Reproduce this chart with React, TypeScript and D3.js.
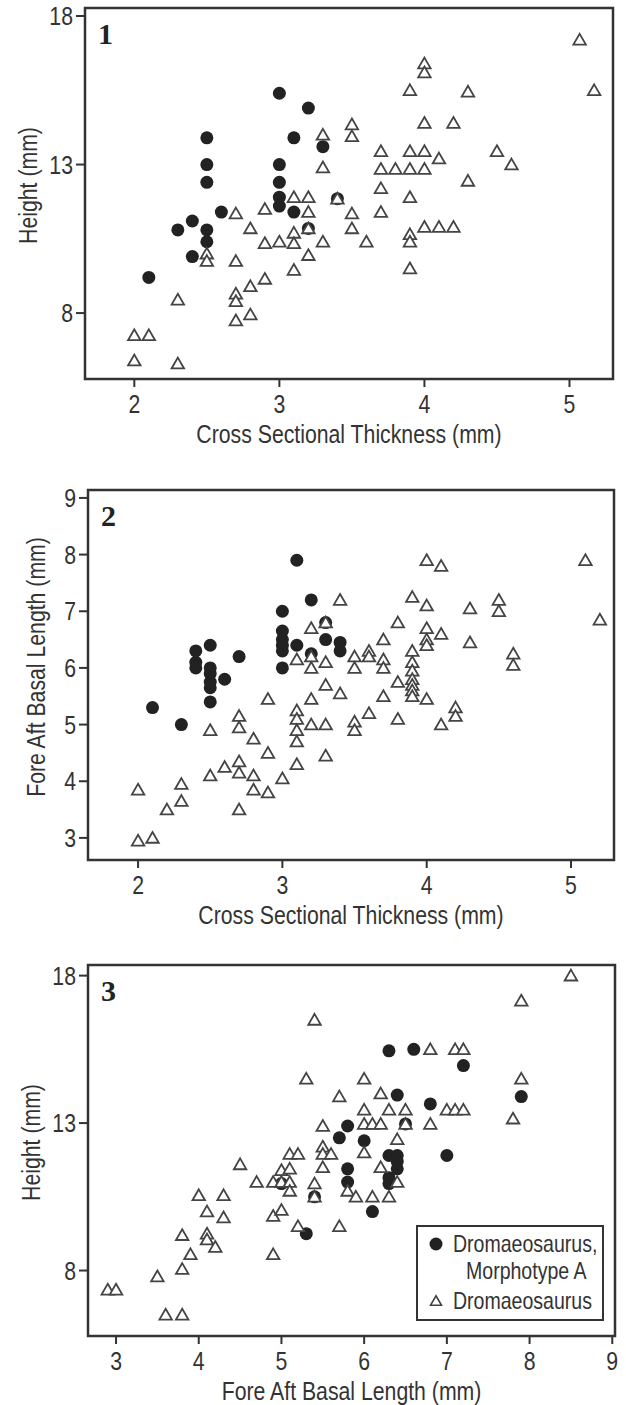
import React from "react";
import * as d3 from "d3";

// ---------- DATA ----------
const seriesNames = ["Dromaeosaurus,", "Morphotype A", "Dromaeosaurus"];

// Panel 1: Cross sectional thickness (x) vs Height (y)
const p1Circles: [number, number][] = [
  [3.0, 15.4], [3.2, 14.9], [2.5, 13.9], [3.1, 13.9], [3.3, 13.6], [2.5, 13.0], [3.0, 13.0],
  [2.5, 12.4], [3.0, 12.4], [3.0, 11.9], [3.0, 11.6], [2.6, 11.4], [3.1, 11.4], [2.4, 11.1],
  [2.3, 10.8], [2.5, 10.8], [2.5, 10.4], [2.4, 9.9], [2.1, 9.2], [3.2, 10.85], [3.4, 11.85],
];
const p1Triangles: [number, number][] = [
  [3.3, 14.0], [3.3, 12.9], [3.1, 11.9], [3.2, 11.9], [3.2, 11.4], [2.9, 11.5], [2.7, 11.35],
  [2.8, 10.85], [3.2, 10.85], [3.1, 10.7], [2.9, 10.35], [3.0, 10.4], [3.1, 10.35], [3.3, 10.4],
  [2.5, 10.0], [2.5, 9.75], [2.7, 9.75], [3.2, 9.95], [2.9, 9.15], [3.1, 9.45], [2.8, 8.9],
  [2.7, 8.65], [2.7, 8.4], [2.8, 7.95], [2.7, 7.75], [2.3, 8.45], [2.0, 7.25], [2.1, 7.25],
  [2.0, 6.4], [2.3, 6.3], [3.4, 11.85],
  [5.07, 17.2], [5.17, 15.5], [4.0, 16.4], [4.0, 16.1], [3.9, 15.5], [4.3, 15.45], [3.5, 14.35],
  [3.5, 13.95], [4.0, 14.4], [4.2, 14.4], [3.7, 13.45], [3.9, 13.45], [4.0, 13.45], [4.1, 13.2],
  [4.5, 13.45], [4.6, 13.0], [3.7, 12.85], [3.8, 12.85], [3.9, 12.85], [4.0, 12.85], [4.3, 12.45],
  [3.7, 12.2], [3.9, 11.9], [3.5, 11.35], [3.5, 10.85], [3.7, 11.4], [3.6, 10.4], [3.9, 10.65],
  [3.9, 10.4], [4.0, 10.9], [4.1, 10.9], [4.2, 10.9], [3.9, 9.5],
];

// Panel 2: Cross sectional thickness (x) vs Fore aft basal length (y)
const p2Circles: [number, number][] = [
  [3.1, 7.9], [3.2, 7.2], [3.0, 7.0], [3.0, 6.65], [3.0, 6.5], [3.0, 6.4], [3.0, 6.3],
  [3.1, 6.4], [3.2, 6.25], [3.3, 6.5], [3.3, 6.8], [3.4, 6.45], [3.4, 6.3], [3.0, 6.0],
  [2.4, 6.3], [2.4, 6.1], [2.4, 6.0], [2.5, 6.4], [2.5, 6.0], [2.5, 5.9], [2.5, 5.75],
  [2.5, 5.65], [2.5, 5.4], [2.6, 5.8], [2.7, 6.2], [2.1, 5.3], [2.3, 5.0],
];
const p2Triangles: [number, number][] = [
  [3.4, 7.2], [3.2, 6.7], [3.3, 6.8], [3.1, 6.15], [3.2, 6.2], [3.2, 6.0], [3.3, 6.1],
  [3.3, 5.7], [3.4, 5.55], [3.2, 5.45], [2.9, 5.45], [3.1, 5.25], [3.1, 5.1], [3.1, 4.9],
  [3.1, 4.7], [3.2, 5.0], [3.3, 5.0], [3.1, 4.3], [3.3, 4.45], [2.7, 5.15], [2.7, 4.95],
  [2.5, 4.9], [2.8, 4.75], [2.9, 4.5], [2.6, 4.25], [2.7, 4.35], [2.7, 4.15], [2.8, 4.1],
  [2.5, 4.1], [3.0, 4.05], [2.8, 3.85], [2.9, 3.8], [2.7, 3.5], [2.3, 3.95], [2.3, 3.65],
  [2.2, 3.5], [2.0, 3.85], [2.0, 2.95], [2.1, 3.0],
  [5.1, 7.9], [5.2, 6.85], [4.0, 7.9], [4.1, 7.8], [3.9, 7.25], [4.0, 7.1], [4.3, 7.05],
  [4.5, 7.2], [4.5, 7.0], [3.8, 6.8], [3.7, 6.5], [4.0, 6.7], [4.0, 6.5], [4.0, 6.4],
  [4.1, 6.6], [4.3, 6.45], [3.5, 6.2], [3.5, 6.0], [3.6, 6.3], [3.6, 6.2], [3.7, 6.15],
  [3.7, 6.0], [3.9, 6.3], [3.9, 6.1], [3.9, 5.95], [3.9, 5.8], [3.9, 5.7], [3.9, 5.6],
  [3.9, 5.5], [3.8, 5.75], [4.6, 6.25], [4.6, 6.05], [3.7, 5.5], [4.0, 5.45], [3.6, 5.2],
  [3.5, 5.05], [3.5, 4.9], [3.8, 5.1], [4.2, 5.3], [4.2, 5.15], [4.1, 5.0],
];

// Panel 3: Fore aft basal length (x) vs Height (y)
const p3Circles: [number, number][] = [
  [5.3, 9.25], [5.7, 12.5], [5.8, 12.9], [5.8, 11.45], [5.8, 11.0], [6.3, 15.45], [6.6, 15.5],
  [7.2, 14.95], [7.9, 13.9], [6.4, 13.95], [6.8, 13.65], [6.0, 12.4], [6.3, 11.9], [6.4, 11.9],
  [6.4, 11.7], [6.4, 11.45], [6.3, 11.15], [6.3, 10.95], [7.0, 11.9], [6.1, 10.0], [6.5, 12.97],
  [5.4, 10.5], [5.0, 10.95],
];
const p3Triangles: [number, number][] = [
  [5.4, 16.5], [5.3, 14.5], [5.7, 13.9], [6.0, 14.5], [5.5, 12.9], [5.5, 12.2], [5.5, 11.95],
  [5.6, 11.95], [5.1, 11.95], [5.2, 11.95], [5.5, 11.5], [4.5, 11.6], [5.0, 11.4], [5.1, 11.45],
  [4.7, 11.0], [4.9, 11.0], [5.0, 11.0], [5.1, 11.0], [5.1, 10.7], [5.4, 10.95], [5.4, 10.5],
  [5.8, 10.7], [4.0, 10.55], [4.3, 10.55], [4.1, 10.0], [4.3, 9.8], [4.9, 9.85], [5.0, 10.05],
  [5.2, 9.5], [5.7, 9.5], [3.8, 9.2], [4.1, 9.25], [4.1, 9.05], [4.2, 8.8], [3.9, 8.55],
  [3.8, 8.05], [4.9, 8.55], [3.5, 7.8], [2.9, 7.35], [3.0, 7.35], [3.6, 6.5], [3.8, 6.5],
  [8.5, 18.0], [7.9, 17.15], [6.8, 15.5], [7.1, 15.5], [7.2, 15.5], [7.9, 14.5], [6.2, 14.0],
  [7.0, 13.45], [7.1, 13.45], [7.2, 13.45], [6.0, 13.45], [6.3, 13.45], [6.5, 13.45], [7.8, 13.15],
  [6.0, 12.97], [6.1, 12.97], [6.2, 12.97], [6.5, 12.97], [6.8, 12.97], [6.4, 12.45], [6.0, 12.0],
  [6.2, 11.5], [6.4, 11.0], [5.9, 10.5], [6.1, 10.5], [6.3, 10.5],
];

const p1XTicks = [2, 3, 4, 5];
const p1YTicks = [8, 13, 18];
const p2XTicks = [2, 3, 4, 5];
const p2YTicks = [3, 4, 5, 6, 7, 8, 9];
const p3XTicks = [3, 4, 5, 6, 7, 8, 9];
const p3YTicks = [8, 13, 18];

const panelLabels = ["1", "2", "3"];
const xTitles = ["Cross Sectional Thickness (mm)", "Cross Sectional Thickness (mm)", "Fore Aft Basal Length (mm)"];
const yTitles = ["Height (mm)", "Fore Aft Basal Length (mm)", "Height (mm)"];

// ---------- STYLE ----------
const FONT = "'Liberation Sans', Arial, sans-serif";
const INK = "#333";
const FS = 25;
const NARROW = 0.85;

function T(props: {
  x: number;
  y: number;
  anchor?: "start" | "middle" | "end";
  rotate?: number;
  size?: number;
  dy?: string;
  children: React.ReactNode;
}) {
  const { x, y, anchor = "start", rotate = 0, size = FS, dy } = props;
  return (
    <text
      transform={`translate(${x},${y}) rotate(${rotate}) scale(${NARROW},1)`}
      textAnchor={anchor}
      fontSize={size}
      fill={INK}
      fontFamily={FONT}
      dy={dy}
    >
      {props.children}
    </text>
  );
}

type PanelProps = {
  frame: { x0: number; x1: number; y0: number; y1: number };
  xDomain: [number, number];
  yDomain: [number, number];
  xTicks: number[];
  yTicks: number[];
  circles: [number, number][];
  triangles: [number, number][];
  label: string;
  xTitle: string;
  yTitle: string;
  yTitleX: number;
  legend?: boolean;
};

function triPath(cx: number, cy: number, s: number) {
  const h = s * 0.866;
  return `M${cx},${cy - h * 0.55}L${cx + s / 2},${cy + h * 0.45}L${cx - s / 2},${cy + h * 0.45}Z`;
}

function Panel(p: PanelProps) {
  const { frame } = p;
  const x = d3.scaleLinear().domain(p.xDomain).range([frame.x0, frame.x1]);
  const y = d3.scaleLinear().domain(p.yDomain).range([frame.y1, frame.y0]);
  const yTickLen = 9;
  const xTickLen = 8;
  return (
    <g>
      {p.yTicks.map((t) => (
        <g key={"y" + t}>
          <line x1={frame.x0 - yTickLen} x2={frame.x0} y1={y(t)} y2={y(t)} stroke={INK} strokeWidth={2} />
          <T x={frame.x0 - yTickLen - 3} y={y(t)} anchor="end" dy="0.36em">{t}</T>
        </g>
      ))}
      {p.xTicks.map((t) => (
        <g key={"x" + t}>
          <line x1={x(t)} x2={x(t)} y1={frame.y1} y2={frame.y1 + xTickLen} stroke={INK} strokeWidth={2} />
          <T x={x(t)} y={frame.y1 + 34} anchor="middle">{t}</T>
        </g>
      ))}
      <T x={(frame.x0 + frame.x1) / 2} y={frame.y1 + 64} anchor="middle">{p.xTitle}</T>
      <T x={p.yTitleX} y={(frame.y0 + frame.y1) / 2 - 8} anchor="middle" rotate={-90}>{p.yTitle}</T>
      {p.circles.map((d, i) => (
        <circle key={"c" + i} cx={x(d[0])} cy={y(d[1])} r={6.5} fill="#222" />
      ))}
      {p.triangles.map((d, i) => (
        <path key={"t" + i} d={triPath(x(d[0]), y(d[1]), 12.5)} fill="#fff" stroke="#444" strokeWidth={1.8} />
      ))}
      <rect x={frame.x0} y={frame.y0} width={frame.x1 - frame.x0} height={frame.y1 - frame.y0} fill="none" stroke={INK} strokeWidth={2.5} />
      <text x={frame.x0 + 13} y={frame.y0 + 36} fontSize={30} fontWeight="bold" fontFamily="'Liberation Serif', 'DejaVu Serif', serif" fill="#222">
        {p.label}
      </text>
      {p.legend && (
        <g>
          <rect x={417} y={frame.y0 + 261} width={186} height={94} fill="#fff" stroke={INK} strokeWidth={2} />
          <circle cx={436} cy={frame.y0 + 279} r={6.5} fill="#222" />
          <T x={453} y={frame.y0 + 287} size={23}>{seriesNames[0]}</T>
          <T x={466} y={frame.y0 + 314} size={23}>{seriesNames[1]}</T>
          <path d={triPath(436, frame.y0 + 336, 11)} fill="#fff" stroke="#444" strokeWidth={1.6} />
          <T x={453} y={frame.y0 + 344} size={23}>{seriesNames[2]}</T>
        </g>
      )}
    </g>
  );
}

export default function App() {
  return (
    <svg width={626} height={1405} style={{ position: "absolute", left: 0, top: 0, background: "#fff" }}>
      <rect width={626} height={1405} fill="#fff" />
      <Panel
        frame={{ x0: 85, x1: 613, y0: 8, y1: 379 }}
        xDomain={[1.66, 5.3]}
        yDomain={[5.78, 18.27]}
        xTicks={p1XTicks}
        yTicks={p1YTicks}
        circles={p1Circles}
        triangles={p1Triangles}
        label={panelLabels[0]}
        xTitle={xTitles[0]}
        yTitle={yTitles[0]}
        yTitleX={37}
      />
      <Panel
        frame={{ x0: 88, x1: 614, y0: 490, y1: 860 }}
        xDomain={[1.653, 5.298]}
        yDomain={[2.61, 9.14]}
        xTicks={p2XTicks}
        yTicks={p2YTicks}
        circles={p2Circles}
        triangles={p2Triangles}
        label={panelLabels[1]}
        xTitle={xTitles[1]}
        yTitle={yTitles[1]}
        yTitleX={45}
      />
      <Panel
        frame={{ x0: 88, x1: 615, y0: 965, y1: 1336 }}
        xDomain={[2.661, 9.033]}
        yDomain={[5.78, 18.36]}
        xTicks={p3XTicks}
        yTicks={p3YTicks}
        circles={p3Circles}
        triangles={p3Triangles}
        label={panelLabels[2]}
        xTitle={xTitles[2]}
        yTitle={yTitles[2]}
        yTitleX={40}
        legend
      />
    </svg>
  );
}
